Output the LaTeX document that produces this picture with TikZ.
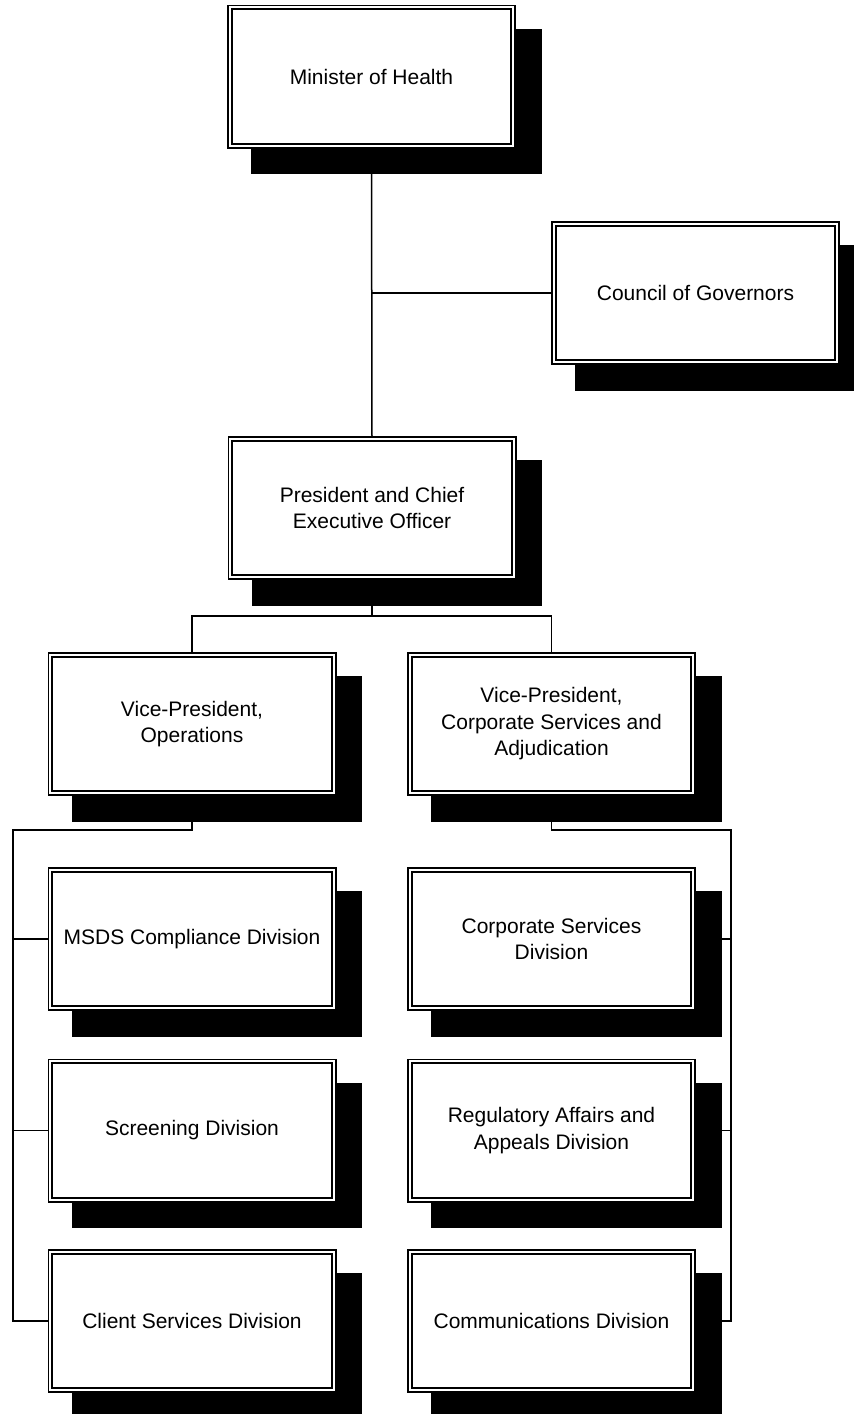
\documentclass[tikz,border=0pt]{standalone}
\usepackage{fontspec}
\setmainfont{Liberation Sans}
\usetikzlibrary{calc}
\pgfdeclarelayer{bg}
\pgfdeclarelayer{shadowlayer}
\pgfsetlayers{bg,shadowlayer,main}
\begin{document}
\begin{tikzpicture}[x=1pt,y=-1pt,
  orgbox/.style={rectangle, draw=black, line width=1.8pt, double=white,
    double distance=2.0pt, fill=white, inner sep=0pt,
    minimum width=283.4pt, minimum height=138.4pt, align=center,
    font=\fontsize{21}{26.5}\selectfont, text=black},
  conn/.style={draw=black, line width=1.5pt}]
\useasboundingbox (0,0) rectangle (854,1414);

\node[orgbox] (m)  at (371.5,76.5) {Minister of Health};
\node[orgbox] (c)  at (695.5,293)  {Council of Governors};
\node[orgbox] (p)  at (372,508)    {President and Chief\\Executive Officer};
\node[orgbox] (vo) at (192,724)    {Vice-President,\\Operations};
\node[orgbox] (vc) at (551.5,724)  {Vice-President,\\Corporate Services and\\Adjudication};
\node[orgbox] (ms) at (192,939)    {MSDS Compliance Division};
\node[orgbox] (sc) at (192,1130.5) {Screening Division};
\node[orgbox] (cl) at (192,1321)   {Client Services Division};
\node[orgbox] (cs) at (551.5,939)  {Corporate Services\\Division};
\node[orgbox] (ra) at (551.5,1130.5) {Regulatory Affairs and\\Appeals Division};
\node[orgbox] (cm) at (551.5,1321) {Communications Division};

\begin{pgfonlayer}{shadowlayer}
\foreach \n in {m,c,p,vo,vc,ms,sc,cl,cs,ra,cm}
  \fill[black] ($(\n.north west)+(22.3,22.3)$) rectangle ($(\n.south east)+(27.7,27.7)$);
\end{pgfonlayer}

\coordinate (pb) at (372,616);
\coordinate (lb) at (13,830);
\coordinate (rb) at (731,830);

\begin{pgfonlayer}{bg}
\fill[white] (0,0) rectangle (854,1414);
\draw[conn] (m.south) -- (p.north);
\draw[conn] (m.south |- c.west) -- (c.west);
\draw[conn] (p.south) -- (pb);
\draw[conn] (pb) -| (vo.north);
\draw[conn] (pb) -| (vc.north);
\draw[conn] (vo.south) -- (vo.south |- lb) -- (lb) -- (lb |- cl.west) -- (cl.west);
\draw[conn] (lb |- ms.west) -- (ms.west);
\draw[conn] (lb |- sc.west) -- (sc.west);
\draw[conn] (vc.south) -- (vc.south |- rb) -- (rb) -- (rb |- cm.east) -- (cm.east);
\draw[conn] (rb |- cs.east) -- (cs.east);
\draw[conn] (rb |- ra.east) -- (ra.east);
\end{pgfonlayer}
\end{tikzpicture}
\end{document}
